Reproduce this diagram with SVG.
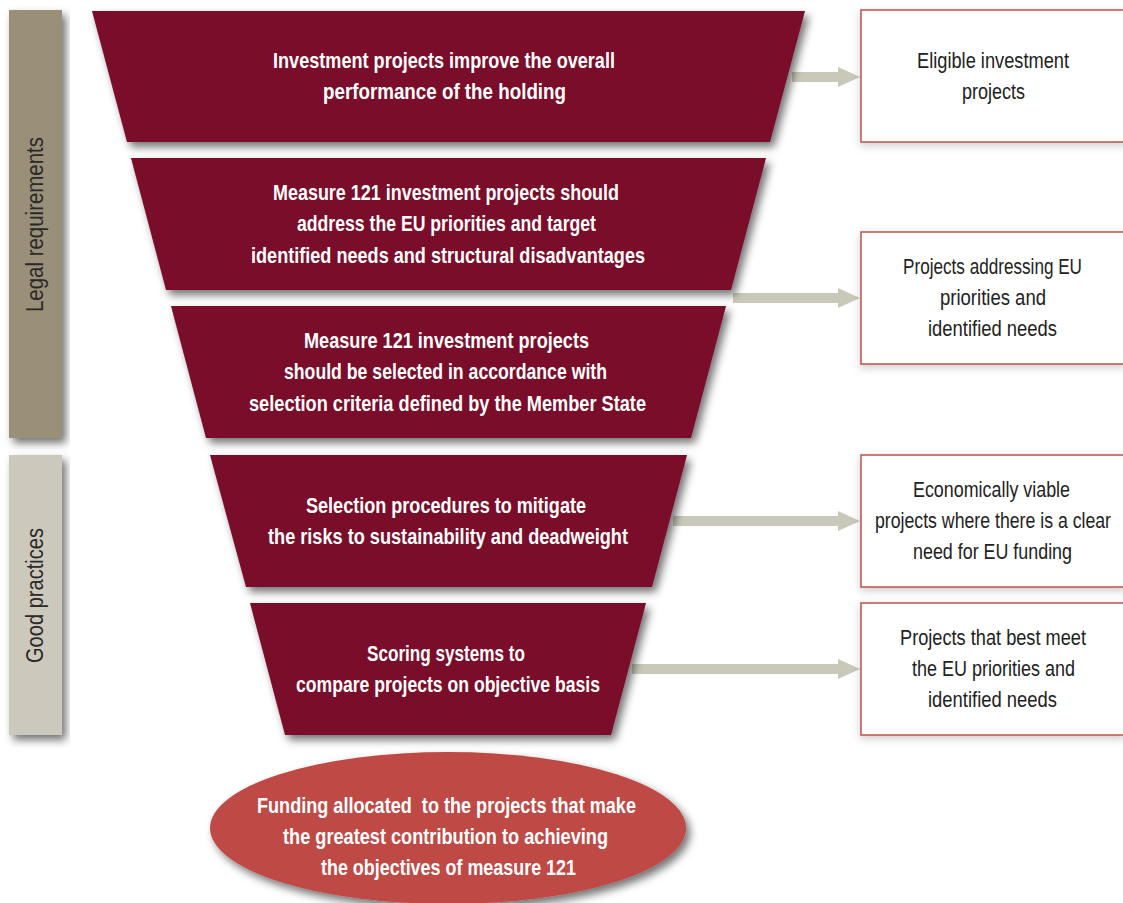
<svg xmlns="http://www.w3.org/2000/svg" width="1123" height="903" viewBox="0 0 1123 903">
<style>
.trap{fill:#7a0a2b;filter:url(#sh)}
.t{font-family:"Liberation Sans",Arial,sans-serif;font-weight:bold;font-size:22px;fill:#fff;text-anchor:middle}
.r{font-family:"Liberation Sans",Arial,sans-serif;font-size:22px;fill:#222;text-anchor:middle}
.side{font-family:"Liberation Sans",Arial,sans-serif;font-size:23px;fill:#2a2a2a;text-anchor:middle}
.box{fill:#fff;stroke:#c0504d;stroke-width:1.5;filter:url(#glow)}
.arr{fill:#c8c9b8}
</style>
<defs>
<filter id="sh" x="-10%" y="-10%" width="125%" height="130%">
<feDropShadow dx="4" dy="5" stdDeviation="4" flood-color="#000" flood-opacity="0.55"/>
</filter>
<filter id="glow" x="-10%" y="-10%" width="120%" height="130%">
<feDropShadow dx="0" dy="3" stdDeviation="4" flood-color="#000" flood-opacity="0.2"/>
</filter>
</defs>
<rect width="1123" height="903" fill="#fff"/>
<g id="legal">
<rect x="9" y="10" width="53" height="428" fill="#9a8f78" filter="url(#sh)"/>
<text class="side" transform="translate(43,224.5) rotate(-90)" textLength="175" lengthAdjust="spacingAndGlyphs">Legal requirements</text>
</g>
<g id="good">
<rect x="9" y="455" width="53" height="280" fill="#cdc8bc" filter="url(#sh)"/>
<text class="side" transform="translate(43,595.5) rotate(-90)" textLength="135" lengthAdjust="spacingAndGlyphs">Good practices</text>
</g>
<g id="connectors">
<polygon class="arr" points="792,72 838,72 838,67 860,77 838,87 838,82 792,82"/>
<polygon class="arr" points="733,293 838,293 838,288 860,298 838,308 838,303 733,303"/>
<polygon class="arr" points="673,516 838,516 838,511 860,521 838,531 838,526 673,526"/>
<polygon class="arr" points="632,664 838,664 838,659 860,669 838,679 838,674 632,674"/>
</g>
<g id="step1">
<polygon class="trap" points="92,11 805,11 770,142 127,142"/>
<text class="t" x="444" y="68" textLength="342" lengthAdjust="spacingAndGlyphs">Investment projects improve the overall</text>
<text class="t" x="444.5" y="99" textLength="243" lengthAdjust="spacingAndGlyphs">performance of the holding</text>
</g>
<g id="step2">
<polygon class="trap" points="131,158 766,158 731,290 166,290"/>
<text class="t" x="446" y="200" textLength="346" lengthAdjust="spacingAndGlyphs">Measure 121 investment projects should</text>
<text class="t" x="446.5" y="231" textLength="299" lengthAdjust="spacingAndGlyphs">address the EU priorities and target</text>
<text class="t" x="448" y="263" textLength="394" lengthAdjust="spacingAndGlyphs">identified needs and structural disadvantages</text>
</g>
<g id="step3">
<polygon class="trap" points="171,306 726,306 691,438 206,438"/>
<text class="t" x="446.5" y="348" textLength="285" lengthAdjust="spacingAndGlyphs">Measure 121 investment projects</text>
<text class="t" x="445.5" y="379" textLength="323" lengthAdjust="spacingAndGlyphs">should be selected in accordance with</text>
<text class="t" x="447.5" y="411" textLength="397" lengthAdjust="spacingAndGlyphs">selection criteria defined by the Member State</text>
</g>
<g id="step4">
<polygon class="trap" points="210,455 687,455 652,587 246,587"/>
<text class="t" x="446" y="513" textLength="280" lengthAdjust="spacingAndGlyphs">Selection procedures to mitigate</text>
<text class="t" x="448" y="544" textLength="360" lengthAdjust="spacingAndGlyphs">the risks to sustainability and deadweight</text>
</g>
<g id="step5">
<polygon class="trap" points="250,603 646,603 611,735 285,735"/>
<text class="t" x="446" y="661" textLength="158" lengthAdjust="spacingAndGlyphs">Scoring systems to</text>
<text class="t" x="448" y="692" textLength="304" lengthAdjust="spacingAndGlyphs">compare projects on objective basis</text>
</g>
<g id="result">
<ellipse cx="448" cy="828" rx="238" ry="76" fill="#be4a45" filter="url(#sh)"/>
<text class="t" x="446.5" y="813" textLength="379" lengthAdjust="spacingAndGlyphs" xml:space="preserve">Funding allocated  to the projects that make</text>
<text class="t" x="445.5" y="844" textLength="325" lengthAdjust="spacingAndGlyphs">the greatest contribution to achieving</text>
<text class="t" x="448.5" y="875" textLength="255" lengthAdjust="spacingAndGlyphs">the objectives of measure 121</text>
</g>
<g id="out1">
<rect class="box" x="861" y="10" width="264" height="132"/>
<text class="r" x="993" y="68" textLength="152" lengthAdjust="spacingAndGlyphs">Eligible investment</text>
<text class="r" x="993.5" y="99" textLength="63" lengthAdjust="spacingAndGlyphs">projects</text>
</g>
<g id="out2">
<rect class="box" x="861" y="232" width="264" height="132"/>
<text class="r" x="992.5" y="274" textLength="179" lengthAdjust="spacingAndGlyphs">Projects addressing EU</text>
<text class="r" x="993" y="305" textLength="106" lengthAdjust="spacingAndGlyphs">priorities and</text>
<text class="r" x="992.5" y="336" textLength="129" lengthAdjust="spacingAndGlyphs">identified needs</text>
</g>
<g id="out3">
<rect class="box" x="861" y="455" width="264" height="132"/>
<text class="r" x="991.5" y="497" textLength="157" lengthAdjust="spacingAndGlyphs">Economically viable</text>
<text class="r" x="993" y="528" textLength="236" lengthAdjust="spacingAndGlyphs">projects where there is a clear</text>
<text class="r" x="992.5" y="559" textLength="159" lengthAdjust="spacingAndGlyphs">need for EU funding</text>
</g>
<g id="out4">
<rect class="box" x="861" y="603" width="264" height="132"/>
<text class="r" x="993" y="645" textLength="186" lengthAdjust="spacingAndGlyphs">Projects that best meet</text>
<text class="r" x="993.5" y="676" textLength="163" lengthAdjust="spacingAndGlyphs">the EU priorities and</text>
<text class="r" x="992.5" y="707" textLength="129" lengthAdjust="spacingAndGlyphs">identified needs</text>
</g>
</svg>
